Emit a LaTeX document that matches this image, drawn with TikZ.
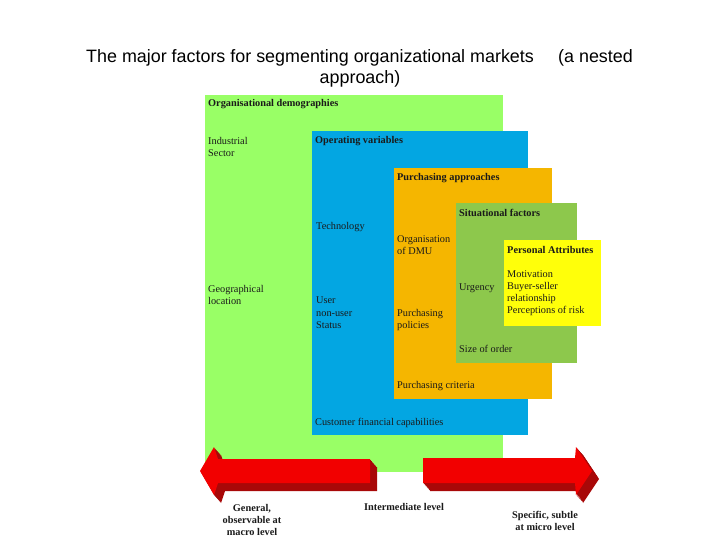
\documentclass[tikz,border=0pt]{standalone}
\usepackage{fontspec}
\setmainfont{Liberation Serif}
\newfontfamily\titlefont{Liberation Sans}
\definecolor{cGreen}{HTML}{99FF66}
\definecolor{cBlue}{HTML}{03A6E2}
\definecolor{cOrange}{HTML}{F5B600}
\definecolor{cOlive}{HTML}{8DC84C}
\definecolor{cYellow}{HTML}{FFFF0A}
\definecolor{cRed}{HTML}{F20000}
\definecolor{cDark}{HTML}{A80808}
\definecolor{cText}{HTML}{1A1A1A}
\begin{document}
\begin{tikzpicture}[x=1pt,y=-1pt,
  lbl/.style={anchor=north west,inner sep=0pt,align=left,font=\fontsize{10.3}{12.3}\selectfont,text=cText},
  hd/.style={lbl,font=\fontsize{10.3}{12.3}\selectfont\bfseries},
  btm/.style={anchor=north,inner sep=0pt,align=center,font=\fontsize{10.3}{12.3}\selectfont\bfseries,text=cText},
  ttl/.style={inner sep=0pt,font=\titlefont\fontsize{17.9}{20}\selectfont}]
\useasboundingbox (0,0) rectangle (720,540);
% title
\node[ttl,anchor=base west] (t1) at (86,63) {The major factors for segmenting organizational markets};
\node[ttl,anchor=base west] (t2) at (558,63) {(a nested};
\node[ttl,anchor=base] (t3) at (360,84) {approach)};
% nested boxes
\fill[cGreen] (205,95) rectangle (503,472);
\fill[cBlue] (312,131) rectangle (528,435);
\fill[cOrange] (394,168) rectangle (552,399);
\fill[cOlive] (456,203) rectangle (577,363);
\fill[cYellow] (504,240) rectangle (601,326);
% texts
\node[hd] (od) at (208,99) {Organisational demographies};
\node[lbl] (is) at (208,137) {Industrial\\Sector};
\node[lbl] (gl) at (208,285) {Geographical\\location};
\node[hd] (ov) at (315,136) {Operating variables};
\node[lbl] (te) at (316,222) {Technology};
\node[lbl] (us) at (316,297) {User\\non-user\\Status};
\node[lbl] (cf) at (315,418) {Customer financial capabilities};
\node[hd] (pa) at (397,173) {Purchasing approaches};
\node[lbl] (dm) at (397,235) {Organisation\\of DMU};
\node[lbl] (pp) at (397,309) {Purchasing\\policies};
\node[lbl] (pc) at (397,381) {Purchasing criteria};
\node[hd] (sf) at (459,209) {Situational factors};
\node[lbl] (ur) at (459,284) {Urgency};
\node[lbl] (so) at (459,345) {Size of order};
\node[hd] (pe) at (507,246) {Personal Attributes};
\node[lbl] (mo) at (507,270) {Motivation\\Buyer-seller\\relationship\\Perceptions of risk};
% arrows with extrusion
\foreach \i in {8,7,...,1}{
  \fill[cDark,shift={(0.875*\i,\i)}] (200,471) -- (214,447) -- (218,459) -- (370,459) -- (370,483) -- (218,483) -- (214,495) -- cycle;
  \fill[cDark,shift={(0.875*\i,\i)}] (423,458) -- (575,458) -- (576,447) -- (592,471) -- (576,495) -- (575,483) -- (423,483) -- cycle;
}
\fill[cRed] (200,471) -- (214,447) -- (218,459) -- (370,459) -- (370,483) -- (218,483) -- (214,495) -- cycle;
\fill[cRed] (423,458) -- (575,458) -- (576,447) -- (592,471) -- (576,495) -- (575,483) -- (423,483) -- cycle;
% bottom labels
\node[btm] (gen) at (252,504) {General,\\observable at\\macro level};
\node[btm] (int) at (404,503) {Intermediate level};
\node[btm] (spe) at (545,511) {Specific, subtle\\at micro level};
\end{tikzpicture}
\end{document}
